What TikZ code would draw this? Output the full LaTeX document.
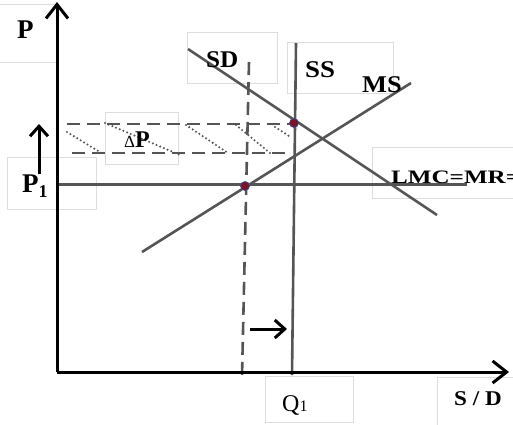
\documentclass[tikz,border=0pt]{standalone}
\usepackage{fontspec}
\setmainfont{Liberation Serif}
\usepackage{graphicx}
\usetikzlibrary{arrows.meta}
\definecolor{linegray}{HTML}{555555}
\definecolor{boxgray}{HTML}{DDDDDD}
\definecolor{dotred}{HTML}{7A1428}
\definecolor{dotblue}{HTML}{3A4E8C}
\begin{document}
\begin{tikzpicture}[x=1pt,y=-1pt,
  lbl/.style={inner sep=0pt, anchor=base west, font=\bfseries},
  tbox/.style={draw=boxgray, line width=0.9pt},
  curve/.style={draw=linegray, line width=2.6pt},
  axis/.style={draw=black, line width=3pt},
  dashline/.style={draw=linegray, line width=2.6pt, dash pattern=on 13pt off 7pt},
  dotline/.style={draw=linegray, line width=2.3pt, dash pattern=on 0pt off 4pt, line cap=round},
  eqpt/.style={circle, fill=dotred, draw=dotblue, line width=0.7pt, inner sep=0pt, minimum size=9pt},
  bigtip/.style={-{Straight Barb[length=14pt,width=22pt,line width=3pt]}},
  smalltip/.style={-{Straight Barb[length=10pt,width=18pt,line width=3pt]}}
]
\useasboundingbox (0,0) rectangle (513,424);
\clip (0,0) rectangle (513,424);

% text boxes
\draw[tbox] (-2,4) rectangle (57,62);
\draw[tbox] (7,157) rectangle (96,209);
\draw[tbox] (105,112) rectangle (178,164);
\draw[tbox] (187,32) rectangle (277,83);
\draw[tbox] (287,42) rectangle (393,93);
\draw[tbox] (372,147) rectangle (520,198);
\draw[tbox] (265,376) rectangle (353,422);
\draw[tbox] (437,377) rectangle (520,430);

% coordinates
\coordinate (O) at (57,372);
\coordinate (Ytop) at (57,2);
\coordinate (Xend) at (509,372);
\coordinate (sdA) at (188,49);
\coordinate (sdB) at (437,215);
\coordinate (msA) at (142,252);
\coordinate (msB) at (411,83);
\coordinate (ssA) at (296,43);
\coordinate (ssB) at (292,375);
\coordinate (lmcA) at (57,184.5);
\coordinate (lmcB) at (467,184.5);
\coordinate (vdA) at (249,62);
\coordinate (vdB) at (242,377);
\coordinate (hu1) at (67,124);
\coordinate (hu2) at (292,124);
\coordinate (hl1) at (72,153);
\coordinate (hl2) at (292,153);

% hatching
\draw[dotline] (67,132) -- (103,154);
\draw[dotline] (105,123) -- (180,155);
\draw[dotline] (186,125) -- (228,153);
\draw[dotline] (236,125) -- (270,153);
\draw[dotline] (275,127) -- (289,136);

% dashed lines
\draw[dashline] (hu1) -- (hu2);
\draw[dashline] (hl1) -- (hl2);
\draw[dashline] (vdA) -- (vdB);

% curves
\draw[curve] (lmcA) -- (lmcB);
\draw[curve] (sdA) -- (sdB);
\draw[curve] (msA) -- (msB);
\draw[curve] (ssA) -- (ssB);

% axes
\draw[axis, bigtip] (O) -- (Ytop);
\draw[axis, bigtip] (O) -- (Xend);

% equilibrium points
\node[eqpt] (e1) at (294,123) {};
\node[eqpt] (e2) at (245,186) {};

% small arrows
\coordinate (ua1) at (39,174);
\coordinate (ua2) at (39,124);
\draw[axis, smalltip] (ua1) -- (ua2);
\coordinate (ra1) at (250,329);
\coordinate (ra2) at (287,329);
\draw[axis, smalltip] (ra1) -- (ra2);

% labels
\node[lbl, font=\bfseries\fontsize{27}{27}\selectfont] (pl) at (17,38) {P};
\node[lbl, font=\bfseries\fontsize{27}{27}\selectfont] (p1l) at (22,192) {P\raisebox{-5pt}{\fontsize{18}{18}\selectfont 1}};
\node[lbl, font=\bfseries\fontsize{24}{24}\selectfont] (dpl) at (124,147) {{\mdseries\fontsize{17}{17}\selectfont Δ}P};
\node[lbl, font=\bfseries\fontsize{24}{24}\selectfont] (sdl) at (206,67) {\scalebox{1.05}[1]{SD}};
\node[lbl, font=\bfseries\fontsize{24}{24}\selectfont] (ssl) at (305,77) {\scalebox{1.12}[1]{SS}};
\node[lbl, font=\bfseries\fontsize{24}{24}\selectfont] (msl) at (362,92) {\scalebox{1.1}[1]{MS}};
\node[lbl, font=\bfseries\fontsize{19}{19}\selectfont] (lmcl) at (391,183) {\scalebox{1.32}[1]{LMC=MR=}};
\node[lbl, font=\fontsize{24}{24}\selectfont] (q1l) at (282,411) {Q{\fontsize{16}{16}\selectfont 1}};
\node[lbl, font=\bfseries\fontsize{21}{21}\selectfont] (sdaxl) at (454,405) {\scalebox{1.1}[1]{S / D}};
\end{tikzpicture}
\end{document}
